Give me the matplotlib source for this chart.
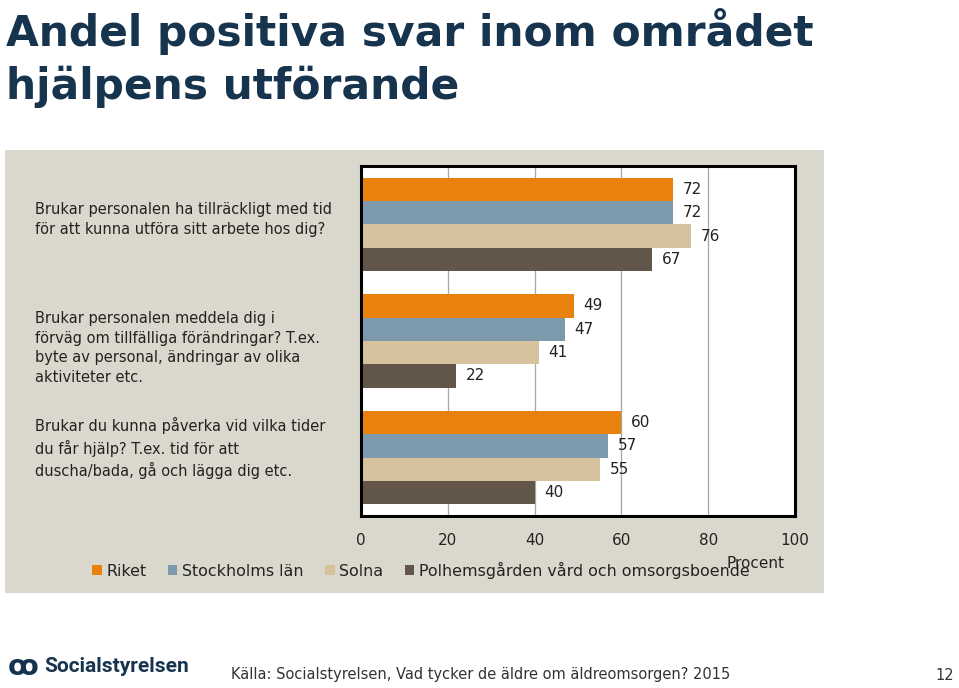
import numpy as np
import matplotlib.pyplot as plt
import matplotlib.transforms as mtransforms
from matplotlib.patches import Rectangle

# ---------------- data ----------------
questions = [
    "Brukar personalen ha tillräckligt med tid\nför att kunna utföra sitt arbete hos dig?",
    "Brukar personalen meddela dig i\nförväg om tillfälliga förändringar? T.ex.\nbyte av personal, ändringar av olika\naktiviteter etc.",
    "Brukar du kunna påverka vid vilka tider\ndu får hjälp? T.ex. tid för att\nduscha/bada, gå och lägga dig etc.",
]
series = ["Riket", "Stockholms län", "Solna", "Polhemsgården vård och omsorgsboende"]
riket = [72, 49, 60]
stockholm = [72, 47, 57]
solna = [76, 41, 55]
polhem = [67, 22, 40]
xticks = [0, 20, 40, 60, 80, 100]

colors = ["#E8820C", "#7D9AAD", "#D6C39D", "#62564A"]
panel_bg = "#DAD8CD"
navy = "#17344F"
txt = "#222222"
font = "DejaVu Sans"

# ---------------- figure ----------------
fig = plt.figure(figsize=(9.59, 6.88), dpi=100)
fig.patch.set_facecolor("white")

def px(x, y):
    return x / 959, 1 - y / 688

# gray panel behind the chart
fig.patches.append(Rectangle(px(5, 593), 819 / 959, 443 / 688,
                             transform=fig.transFigure, facecolor=panel_bg,
                             edgecolor="none", zorder=-5))

fig.text(*px(6, 46), "Andel positiva svar inom området",
         fontsize=30.5, fontweight="bold", color=navy, family=font,
         va="baseline", ha="left")
fig.text(*px(6, 99), "hjälpens utförande",
         fontsize=30.5, fontweight="bold", color=navy, family=font,
         va="baseline", ha="left")

l, b = px(361, 516)
ax = fig.add_axes([l, b, 434 / 959, 350 / 688])
ax.set_facecolor("white")
ax.set_zorder(2)

vals = [riket, stockholm, solna, polhem]
offsets = [-0.3, -0.1, 0.1, 0.3]
y = np.arange(len(questions))
for v, off, c, name in zip(vals, offsets, colors, series):
    ax.barh(y + off, v, height=0.2, color=c, label=name, zorder=2)
    for yi, vi in zip(y, v):
        ax.annotate(str(vi), (vi, yi + off), xytext=(7, 0),
                    textcoords="offset points", va="center", ha="left",
                    fontsize=11, color=txt, family=font)

ax.set_xlim(0, 100)
ax.set_ylim(2.5, -0.5)
ax.set_xticks(xticks)
ax.set_xticklabels([str(t) for t in xticks])
ax.xaxis.grid(True, color="#A6A6A6", linewidth=0.9)
ax.set_axisbelow(True)
ax.tick_params(axis="x", length=0, pad=12, labelsize=11, labelcolor=txt)
for lab in ax.get_xticklabels():
    lab.set_family(font)
ax.set_yticks([])
for s in ax.spines.values():
    s.set_linewidth(2.2)
    s.set_color("black")

# question labels, left aligned in the panel
trans = mtransforms.blended_transform_factory(fig.transFigure, ax.transData)
label_shift = [-0.04, 0.06, -0.08]
for yi, q, sh in zip(y, questions, label_shift):
    fig.text(35 / 959, yi + sh, q, transform=trans,
             ha="left", va="center", fontsize=10.5, color=txt, family=font,
             linespacing=1.4)

fig.text(*px(755, 563), "Procent", ha="center", va="center",
         fontsize=11, color=txt, family=font)

leg = fig.legend(loc="center", bbox_to_anchor=px(421, 570), ncol=4,
                 frameon=False, handlelength=0.6, handleheight=0.6,
                 handletextpad=0.3, columnspacing=1.35,
                 prop={"family": font, "size": 11.4})
for t in leg.get_texts():
    t.set_color(txt)

# footer
fig.text(*px(8, 667), "ꝏ", fontsize=20, color=navy, va="center", ha="left",
         family=font, fontweight="bold")
fig.text(*px(44, 667), "Socialstyrelsen", fontsize=15, fontweight="bold",
         color=navy, va="center", ha="left", family="Roboto")
fig.text(*px(231, 675), "Källa: Socialstyrelsen, Vad tycker de äldre om äldreomsorgen? 2015",
         fontsize=10.5, color="#333333", va="center", ha="left", family=font)
fig.text(*px(954, 675), "12", fontsize=10.5, color="#333333", va="center",
         ha="right", family=font)

fig.savefig("out.png", dpi=100)
